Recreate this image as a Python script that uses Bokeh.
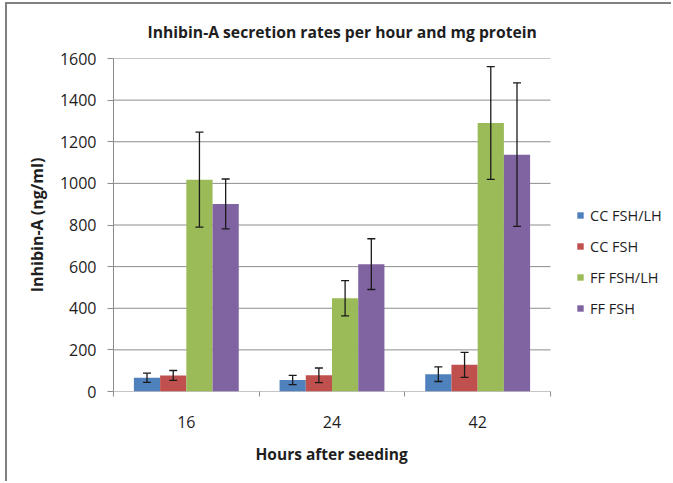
from bokeh.plotting import figure
from bokeh.models import ColumnDataSource, Whisker, TeeHead, FixedTicker, Legend, LegendItem, Title
from bokeh.embed import file_html
from bokeh.resources import INLINE

# ---- data ----
hours = ["16", "24", "42"]
series = ["CC FSH/LH", "CC FSH", "FF FSH/LH", "FF FSH"]
cc_fsh_lh = [66, 55, 83]
cc_fsh_lh_err = [22, 22, 35]
cc_fsh = [77, 78, 128]
cc_fsh_err = [24, 35, 60]
ff_fsh_lh = [1018, 448, 1290]
ff_fsh_lh_err = [228, 85, 271]
ff_fsh = [901, 612, 1138]
ff_fsh_err = [120, 122, 345]
y_ticks = [0, 200, 400, 600, 800, 1000, 1200, 1400, 1600]

values = [cc_fsh_lh, cc_fsh, ff_fsh_lh, ff_fsh]
errors = [cc_fsh_lh_err, cc_fsh_err, ff_fsh_lh_err, ff_fsh_err]
colors = ["#4F81BD", "#C0504D", "#9BBB59", "#8064A2"]

FONT = "Open Sans"
TXT = "#1e1e1e"
GRID = "#8c8c8c"

W, H = 666, 479
LEFT, TOP, BOTTOM = 106, 54, 92
CAT_PX = 437.0 / 3          # pixel width of one category
frame_w = W - LEFT
x_end = frame_w / CAT_PX     # frame extends to the right to host the legend

p = figure(width=W, height=H, x_range=(0, x_end), y_range=(0, 1600),
           output_backend="svg", toolbar_location=None,
           min_border_left=LEFT, min_border_right=0,
           min_border_top=TOP, min_border_bottom=BOTTOM)
p.outline_line_color = None
p.styles = {"margin-left": "5px", "margin-top": "2px",
            "border-left": "2px solid #808080", "border-top": "2px solid #808080"}

# title
p.title.text = "Inhibin-A secretion rates per hour and mg protein"
p.title.text_font = FONT
p.title.text_font_size = "15.7px"
p.title.text_font_style = "bold"
p.title.text_color = TXT
p.title.align = "left"
p.title.vertical_align = "middle"
p.title.offset = 34
p.title.standoff = 30

# horizontal gridlines only across the category area
n = len(hours)
p.segment(x0=[0] * len(y_ticks), x1=[n] * len(y_ticks), y0=y_ticks, y1=y_ticks,
          line_color=GRID, line_width=1)

# bars + error bars
bar_w = 0.18
items = []
for k, (name, vals, errs, col) in enumerate(zip(series, values, errors, colors)):
    off = (k - 1.5) * bar_w
    xs = [i + 0.5 + off for i in range(n)]
    src = ColumnDataSource(dict(x=xs, top=vals,
                                upper=[v + e for v, e in zip(vals, errs)],
                                lower=[v - e for v, e in zip(vals, errs)]))
    r = p.vbar(x="x", top="top", width=bar_w, bottom=0, source=src,
               fill_color=col, line_color=None)
    items.append(LegendItem(label=name, renderers=[r]))
    w = Whisker(base="x", upper="upper", lower="lower", source=src, level="overlay",
                line_color="#1a1a1a", line_width=1.3,
                upper_head=TeeHead(size=8, line_color="#1a1a1a", line_width=1.3),
                lower_head=TeeHead(size=8, line_color="#1a1a1a", line_width=1.3))
    p.add_layout(w)

# x axis (Excel style: ticks at category boundaries, labels at centres)
xa = p.xaxis[0]
xa.ticker = FixedTicker(ticks=[i + 0.5 for i in range(n)],
                        minor_ticks=list(range(n + 1)))
xa.major_label_overrides = {i + 0.5: h for i, h in enumerate(hours)}
xa.major_tick_line_color = None
xa.major_tick_out = 0
xa.major_tick_in = 0
xa.minor_tick_line_color = GRID
xa.minor_tick_out = 5
xa.minor_tick_in = 0
xa.axis_line_color = None
xa.major_label_text_font = FONT
xa.major_label_text_font_size = "16px"
xa.major_label_text_color = TXT
xa.major_label_standoff = 19

xt = Title(text="Hours after seeding", text_font=FONT, text_font_size="15.5px",
           text_font_style="bold", text_color=TXT, align="left",
           offset=142, standoff=20)
p.add_layout(xt, "below")

ya = p.yaxis[0]
ya.ticker = FixedTicker(ticks=y_ticks)
ya.major_tick_out = 6
ya.major_tick_in = 0
ya.major_tick_line_color = GRID
ya.minor_tick_line_color = None
ya.axis_line_color = GRID
ya.major_label_text_font = FONT
ya.major_label_text_font_size = "16px"
ya.major_label_text_color = TXT
ya.major_label_standoff = 11
ya.axis_label = "Inhibin-A (ng/ml)"
ya.axis_label_text_font = FONT
ya.axis_label_text_font_size = "16px"
ya.axis_label_text_font_style = "bold"
ya.axis_label_text_color = TXT
ya.axis_label_standoff = 9

p.xgrid.grid_line_color = None
p.ygrid.grid_line_color = None

legend = Legend(items=items, location=(463, 73), orientation="vertical",
                border_line_color=None, background_fill_alpha=0,
                padding=0, margin=0, spacing=11,
                glyph_width=8, glyph_height=8, label_height=20, label_standoff=6,
                label_text_font=FONT, label_text_font_size="14.5px",
                label_text_color=TXT)
p.add_layout(legend, "center")

open("out.html", "w").write(file_html(p, INLINE))
